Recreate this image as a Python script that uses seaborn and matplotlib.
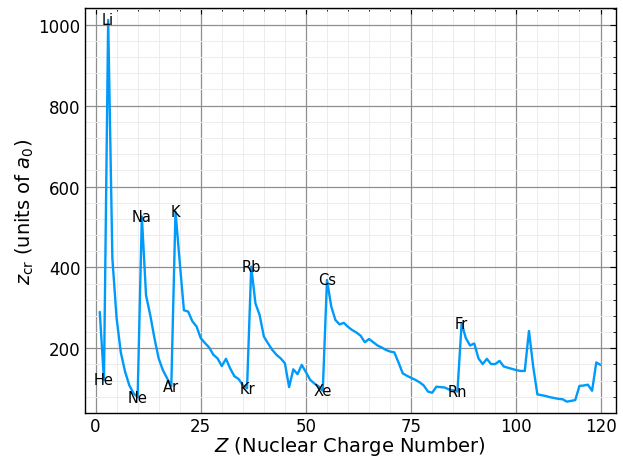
import numpy as np
import pandas as pd
import matplotlib
matplotlib.use('Agg')
import matplotlib.pyplot as plt
from matplotlib.ticker import AutoMinorLocator
import seaborn as sns

# Critical radius per element
Z = list(range(1, 121))
z_cr = [290, 122, 1012, 422, 275, 190, 143, 109, 89, 79,
        526, 331, 282, 225, 175, 146, 126, 106, 538, 414,
        294, 291, 267, 254, 225, 213, 202, 184, 175, 156,
        174, 150, 131, 124, 109, 101, 402, 311, 282, 229,
        212, 196, 184, 175, 163, 104, 148, 136, 159, 141,
        122, 113, 106, 95, 369, 304, 270, 259, 263, 253,
        245, 239, 231, 215, 223, 215, 207, 202, 196, 192,
        190, 165, 138, 132, 127, 122, 116, 108, 93, 90,
        105, 104, 103, 98, 96, 93, 262, 225, 207, 212,
        175, 161, 174, 161, 161, 169, 155, 152, 149, 146,
        144, 144, 243, 155, 86, 84, 82, 79, 77, 75,
        74, 68, 70, 72, 107, 108, 110, 95, 165, 159]

# labelled elements (noble gases and alkali metals)
label_names = ['He', 'Li', 'Ne', 'Na', 'Ar', 'K', 'Kr', 'Rb', 'Xe', 'Cs', 'Rn', 'Fr']
label_Z = [2, 3, 10, 11, 18, 19, 36, 37, 54, 55, 86, 87]

df = pd.DataFrame({'Z': Z, 'z_cr': z_cr})

sns.set_style('white')
plt.rcParams['font.family'] = ['DejaVu Sans']
plt.rcParams['text.color'] = 'black'
plt.rcParams['axes.labelcolor'] = 'black'
plt.rcParams['xtick.color'] = 'black'
plt.rcParams['ytick.color'] = 'black'

fig, ax = plt.subplots(figsize=(6.23, 4.6), dpi=100)
fig.subplots_adjust(left=0.136, right=0.988, top=0.980, bottom=0.100)

sns.lineplot(data=df, x='Z', y='z_cr', color='#009afa', linewidth=1.7, ax=ax)

for name, zz in zip(label_names, label_Z):
    ax.text(zz, z_cr[zz - 1], name, ha='center', va='center', fontsize=10.5, color='black')

ax.set_xlim(-2.57, 123.57)
ax.set_ylim(40, 1041)
ax.set_xticks([0, 25, 50, 75, 100, 120])
ax.set_yticks([200, 400, 600, 800, 1000])
ax.xaxis.set_minor_locator(AutoMinorLocator(5))
ax.yaxis.set_minor_locator(AutoMinorLocator(5))

ax.grid(True, which='major', color='#8f8f8f', linewidth=0.9)
ax.grid(True, which='minor', color='#ececec', linewidth=0.7)
ax.set_axisbelow(True)

ax.tick_params(which='both', direction='in', top=True, right=True, labelsize=12,
               color='black', labelcolor='black')
ax.tick_params(which='major', length=4, pad=3)
ax.tick_params(which='minor', length=2)
for sp in ax.spines.values():
    sp.set_color('black')
    sp.set_linewidth(1.0)

ax.set_xlabel(r'$Z$ (Nuclear Charge Number)', fontsize=14, labelpad=-1)
ax.set_ylabel(r'$z_{\rm cr}$ (units of $a_0$)', fontsize=14, labelpad=2)

plt.savefig('out.png', dpi=100)
